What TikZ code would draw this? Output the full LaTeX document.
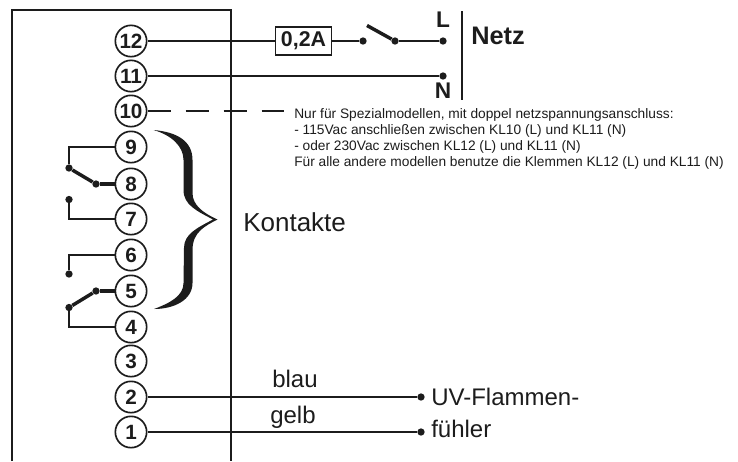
\documentclass[tikz,border=0pt]{standalone}
\usepackage{fontspec}
\setmainfont{Liberation Sans}
\usetikzlibrary{positioning}
\definecolor{ink}{HTML}{1C1C1C}
\tikzset{
    klemme/.style={draw=ink, circle, line width=1.25pt, minimum size=23.5pt, inner sep=0pt, fill=white, font=\fontsize{15.5}{15.5}\selectfont\bfseries, text=ink},
    wire/.style={draw=ink, line width=1.3pt},
    kontakt/.style={draw=ink, line width=2.6pt},
    dot/.style={circle, fill=ink, inner sep=0pt, minimum size=5.5pt},
    label/.style={text=ink, inner sep=0pt, font=\fontsize{18}{18}\selectfont},
    netzlabel/.style={text=ink, inner sep=0pt, font=\fontsize{17}{17}\selectfont\bfseries}
}
\begin{document}
\begin{tikzpicture}[x=0.75pt, y=-0.75pt]
    \useasboundingbox (0,0) rectangle (738,461);

    % Gehaeuse
    \draw[wire, line width=1.7pt] (12,461) -- (12,10) -- (231,10) -- (231,461);

    % Klemmen
    \foreach \n/\y in {12/41, 11/76, 10/111, 9/147, 8/184, 7/219, 6/255, 5/291, 4/327, 3/361, 2/397, 1/432} {
        \node[klemme] (k\n) at (131,\y) {\n};
    }

    % Netz
    \node[draw=ink, line width=1.3pt, inner sep=0pt, minimum width=42pt, minimum height=21.5pt, font=\fontsize{16}{16}\selectfont\bfseries, text=ink] (fuse) at (303.5,41) {0,2A};
    \node[dot] (s1) at (363,41) {};
    \node[dot] (s2) at (395,41) {};
    \node[dot] (dL) at (443,41) {};
    \node[dot] (dN) at (443,76) {};
    \coordinate (blade) at (367,25.5);
    \draw[wire] (k12) -- (fuse);
    \draw[wire] (fuse) -- (s1);
    \draw[wire] (s2) -- (dL);
    \draw[kontakt] (blade) -- (s2);
    \draw[wire] (k11) -- (dN);
    \node[netzlabel] (lL) at (443,20) {L};
    \node[netzlabel] (lN) at (443,91) {N};
    \coordinate (nTop) at (462,11);
    \coordinate (nBot) at (462,100);
    \draw[wire, line width=1.7pt] (nTop) -- (nBot);
    \node[netzlabel, anchor=west, font=\fontsize{19}{19}\selectfont\bfseries] (netz) at (471,36) {Netz};

    % Sondermodelle
    \coordinate (dashEnd) at (284,111);
    \draw[wire, dash pattern=on 17.25pt off 11.25pt] (k10) -- (dashEnd);
    \node[anchor=north west, inner sep=0pt, align=left, text=ink, font=\fontsize{10.3}{12}\selectfont] (note) at (294,108.5) {Nur für Spezialmodellen, mit doppel netzspannungsanschluss:\\
        - 115Vac anschließen zwischen KL10 (L) und KL11 (N)\\
        - oder 230Vac zwischen KL12 (L) und KL11 (N)\\
        Für alle andere modellen benutze die Klemmen KL12 (L) und KL11 (N)};

    % Kontakte
    \node[dot] (a9) at (69,168) {};
    \node[dot] (b8) at (96,184) {};
    \node[dot] (a7) at (69,199.5) {};
    \node[dot] (a6) at (69,274) {};
    \node[dot] (b5) at (96,291) {};
    \node[dot] (a4) at (69,307.5) {};
    \draw[wire] (k9) -| (a9);
    \draw[kontakt] (a9) -- (b8);
    \draw[kontakt] (b8) -- (k8);
    \draw[wire] (k7) -| (a7);
    \draw[wire] (k6) -| (a6);
    \draw[kontakt] (k5) -- (b5);
    \draw[kontakt] (b5) -- (a4);
    \draw[wire] (k4) -| (a4);

    % Klammer
    \fill[ink] (153.5,130) .. controls (177,132) and (192.5,141) .. (192.5,160)
        -- (192.5,193) .. controls (192.5,205) and (203,213) .. (217.5,219.5)
        .. controls (205,226) and (192.5,232) .. (192.5,250)
        -- (192.5,283) .. controls (192.5,300) and (174,309) .. (154,309)
        .. controls (170,303) and (183.5,296) .. (183.5,283)
        -- (184,248) .. controls (184,234) and (197,228) .. (213,219.5)
        .. controls (197,211) and (183.5,205) .. (183.5,190)
        -- (183.5,160) .. controls (183.5,146) and (171,135) .. (153.5,130) -- cycle;
    \node[label, anchor=west, font=\fontsize{19.5}{19.5}\selectfont] (kontakte) at (243,222) {Kontakte};

    % Flammenfuehler
    \node[dot] (f2) at (421,397) {};
    \node[dot] (f1) at (421,432) {};
    \draw[wire] (k2) -- (f2);
    \draw[wire] (k1) -- (f1);
    \node[label, anchor=base west] (blau) at (272,387) {blau};
    \node[label, anchor=base west] (gelb) at (270,423) {gelb};
    \node[label, anchor=base west] (uv) at (431,405) {UV-Flammen-};
    \node[label, anchor=base west] (fuehler) at (431,437) {fühler};
\end{tikzpicture}
\end{document}
